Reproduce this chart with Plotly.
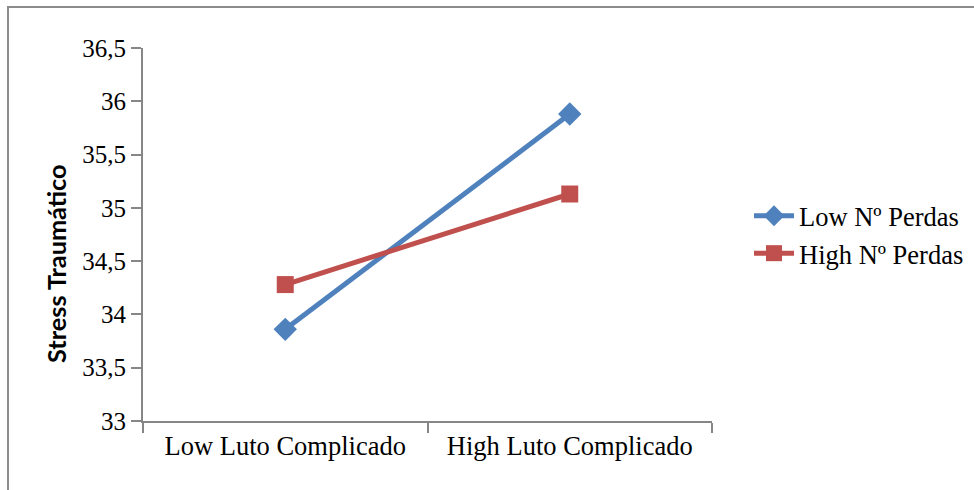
import plotly.graph_objects as go

categories = ["Low Luto Complicado", "High Luto Complicado"]
low_perdas = [33.86, 35.88]
high_perdas = [34.28, 35.13]
series_names = ["Low Nº Perdas", "High Nº Perdas"]
y_ticks = [33, 33.5, 34, 34.5, 35, 35.5, 36, 36.5]
y_tick_labels = ["33", "33,5", "34", "34,5", "35", "35,5", "36", "36,5"]
y_title = "Stress Traumático"

BLUE = "#4f81bd"
RED = "#c0504d"
AXIS = "#868686"
SERIF = "Liberation Serif, Times New Roman, serif"

fig = go.Figure()
fig.add_trace(go.Scatter(
    x=categories, y=low_perdas, name=series_names[0], mode="lines+markers",
    line=dict(color=BLUE, width=5),
    marker=dict(symbol="diamond", size=18, color=BLUE),
))
fig.add_trace(go.Scatter(
    x=categories, y=high_perdas, name=series_names[1], mode="lines+markers",
    line=dict(color=RED, width=5),
    marker=dict(symbol="square", size=17, color=RED),
))

W, H = 974, 490
L, R, T, B = 143, W - 712, 48, H - 421
pw, ph = W - L - R, H - T - B

fig.update_layout(
    width=W, height=H,
    margin=dict(l=L, r=R, t=T, b=B, autoexpand=False),
    paper_bgcolor="white", plot_bgcolor="white",
    showlegend=True,
    legend=dict(
        xref="container", yref="container",
        x=749 / W, y=1 - 192 / H, xanchor="left", yanchor="top",
        font=dict(family=SERIF, size=26.5, color="black"),
        itemwidth=40, tracegroupgap=0, bgcolor="rgba(0,0,0,0)",
    ),
    xaxis=dict(
        type="category", showline=True, linecolor=AXIS, linewidth=2,
        ticks="outside", tickson="boundaries", ticklen=10, tickcolor=AXIS, tickwidth=2,
        showgrid=False, zeroline=False,
        tickfont=dict(family=SERIF, size=26.5, color="black"),
        range=[-0.5, 1.5],
    ),
    yaxis=dict(
        range=[33, 36.5], tickvals=y_ticks, ticktext=y_tick_labels,
        showline=True, linecolor=AXIS, linewidth=2,
        ticks="outside", ticklen=10, tickcolor=AXIS, tickwidth=2,
        showgrid=False, zeroline=False,
        tickfont=dict(family=SERIF, size=25, color="black"),
    ),
    annotations=[dict(
        text="<b>" + y_title + "</b>", textangle=-90, showarrow=False,
        xref="paper", yref="paper",
        x=(56 - L) / pw, y=(421 - 264) / ph, xanchor="center", yanchor="middle",
        font=dict(family="Lato, Open Sans, sans-serif", size=25.3, color="black"),
    )],
    shapes=[dict(
        type="rect", xref="paper", yref="paper",
        x0=(8 - L) / pw, x1=(990 - L) / pw,
        y0=(421 - 500) / ph, y1=1 + (T - 7) / ph,
        line=dict(color="#8c8c8c", width=2), fillcolor="rgba(0,0,0,0)", layer="below",
    )],
)

fig.write_html("out.html", config={"displayModeBar": False},
               post_script="document.body.style.margin='0';document.body.style.padding='0';")
